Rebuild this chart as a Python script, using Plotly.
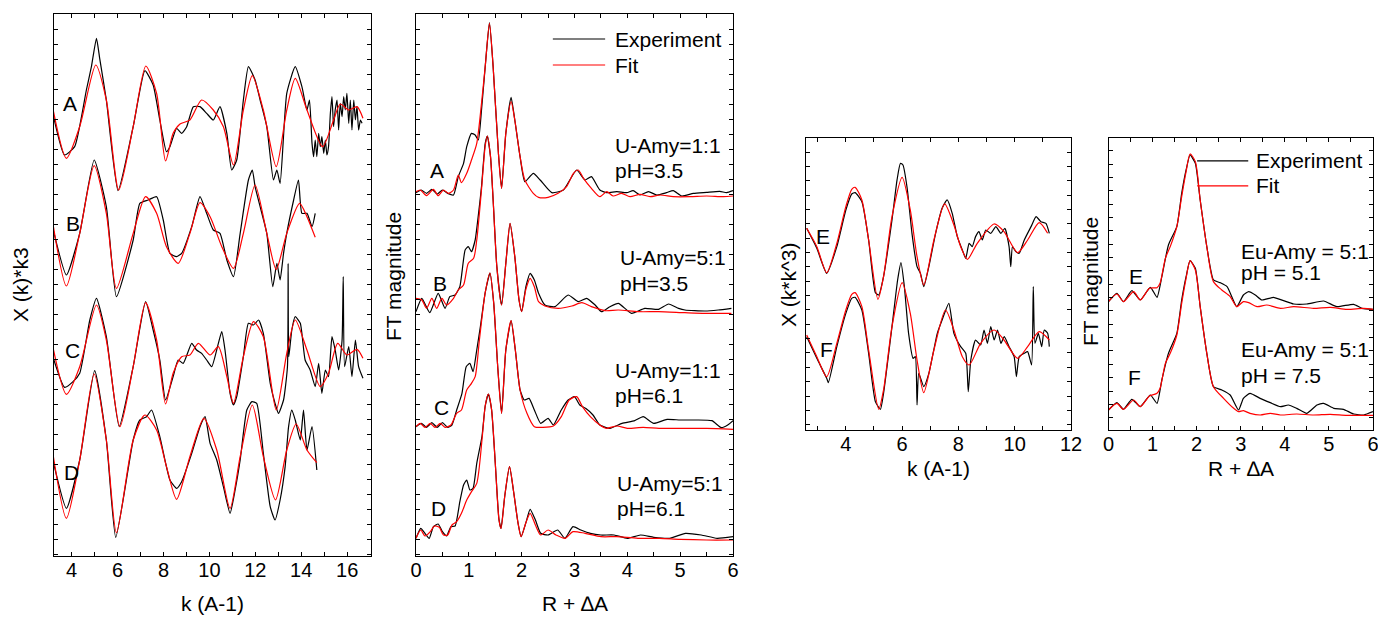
import plotly.graph_objects as go

# ---------------- DATA ----------------
# Panel 1: chi(k)*k^3, stacked curves A-D (arbitrary units, offsets included)
kA_exp = [3.18,3.69,4.13,4.64,4.86,5.08,5.22,5.51,6.02,6.68,7.19,7.55,7.84,8.13,8.28,8.57,8.79,9.01,9.30,9.59,
          9.88,10.17,10.46,10.76,10.97,11.19,11.48,11.70,11.99,12.21,12.50,12.79,12.94,13.08,13.37,13.74,14.03,
          14.25,14.36,14.47,14.54,14.61,14.68,14.76,14.83,14.90,14.98,15.05,15.12,15.19,15.27,15.34,15.41,15.48,
          15.56,15.63,15.70,15.78,15.85,15.92,15.99,16.07,16.14,16.21,16.29,16.36,16.43,16.50,16.58,16.65]
chiA_exp = [13.28,12.03,12.28,13.98,14.68,15.53,14.93,13.68,10.96,12.88,14.56,14.13,13.08,12.13,12.28,12.83,12.68,12.88,13.48,13.48,
            13.28,13.08,13.48,12.68,11.58,11.88,13.68,14.68,14.28,13.68,12.88,11.28,11.58,11.18,13.88,14.68,14.08,
            13.38,13.68,12.38,11.98,12.48,11.98,12.68,12.28,12.58,12.08,12.48,12.03,12.28,13.28,13.78,12.88,13.38,
            13.68,12.78,13.58,13.18,13.78,13.38,13.88,12.98,13.68,12.78,13.68,13.08,13.48,12.78,13.08,12.98]
kA_fit = [3.18,3.77,4.35,5.05,5.51,6.05,6.68,7.23,7.70,8.09,8.42,8.72,9.15,9.66,10.17,10.61,11.05,11.48,11.87,12.35,
          12.91,13.37,13.74,14.25,14.93,15.41,15.70,16.07,16.43,16.69]
chiA_fit = [13.43,11.93,12.88,14.73,13.68,10.98,12.88,14.70,13.88,11.85,12.68,12.96,13.08,13.68,13.38,12.88,11.73,13.38,14.41,13.38,
            11.68,13.38,14.33,13.38,12.28,13.08,13.56,13.38,13.48,13.13]

kB_exp = [3.18,3.77,4.35,4.98,5.51,5.95,6.68,6.97,7.33,7.70,7.99,8.28,8.57,8.79,9.23,9.59,9.88,10.17,10.46,10.76,
          11.05,11.34,11.70,11.87,11.99,12.21,12.50,12.76,12.94,13.08,13.23,13.37,13.67,13.88,14.03,14.25,14.47,14.61]
chiB_exp = [9.83,8.43,9.68,11.88,10.48,7.78,9.48,10.58,10.68,10.78,10.08,9.08,8.98,9.08,9.88,10.78,10.28,9.78,9.68,8.88,
            8.38,9.68,11.28,11.58,11.08,10.48,9.68,8.08,8.78,8.28,9.08,9.68,10.68,11.28,10.28,10.28,9.88,10.28]
kB_fit = [3.18,3.77,4.35,4.98,5.51,5.95,6.68,7.22,7.70,8.13,8.64,9.15,9.59,10.03,10.54,11.05,11.48,11.99,12.50,12.91,
          13.37,13.93,14.25,14.61]
chiB_fit = [9.98,8.10,9.68,11.71,10.28,8.03,9.68,10.78,10.28,9.28,8.78,9.68,10.60,10.18,9.28,8.63,9.68,11.13,9.68,8.60,
            9.68,10.58,10.18,9.56]

kC_exp = [3.18,3.69,4.06,4.35,4.79,5.08,5.51,6.07,6.68,7.22,7.55,7.84,8.09,8.42,8.64,8.86,9.23,9.44,9.66,9.88,
          10.10,10.39,10.54,10.68,10.90,11.05,11.19,11.48,11.70,11.92,12.14,12.35,12.65,12.86,13.01,13.23,13.40,13.43,13.46,13.59,
          13.74,13.96,14.17,14.39,14.61,14.76,14.90,15.05,15.19,15.34,15.48,15.63,15.78,15.83,15.89,16.07,16.21,16.36,16.50,16.69]
chiC_exp = [5.98,5.06,5.23,5.48,7.08,7.73,6.58,3.88,5.68,7.63,6.78,5.88,4.68,5.38,5.88,5.78,6.38,6.18,6.08,5.88,
            5.68,6.38,6.73,6.18,4.88,4.53,4.78,5.98,6.98,6.93,7.08,6.68,5.18,4.58,4.28,4.68,5.68,8.78,5.98,6.78,
            7.18,6.98,5.88,5.58,5.08,5.78,4.88,5.58,5.38,6.58,6.18,5.58,6.48,8.38,5.68,6.28,5.38,6.48,5.68,5.33]
kC_fit = [3.18,3.77,4.35,5.08,5.51,6.10,6.68,7.22,7.70,8.09,8.42,8.79,9.15,9.52,10.03,10.39,10.76,11.05,11.48,11.92,
          12.35,12.91,13.37,13.74,14.25,14.83,15.19,15.59,15.99,16.43,16.69]
chiC_fit = [6.28,4.85,5.68,7.53,6.48,3.88,5.68,7.60,6.48,4.56,5.48,5.98,6.03,6.38,6.03,6.28,5.38,4.58,5.98,7.03,
            6.58,4.38,6.08,7.08,6.18,5.08,5.48,6.38,6.03,6.20,5.93]

kD_exp = [3.18,3.77,4.35,5.00,5.51,5.92,6.68,6.97,7.26,7.48,7.84,8.28,8.57,8.79,9.23,9.59,9.81,10.03,10.32,10.61,
          10.90,11.12,11.34,11.63,11.85,12.06,12.35,12.65,12.86,13.08,13.30,13.45,13.59,13.74,13.96,14.10,14.25,14.47,14.68]
chiD_exp = [2.88,1.43,2.88,5.56,3.48,0.56,3.48,4.08,4.18,4.38,3.58,2.28,2.03,2.23,3.08,3.88,4.18,3.38,2.88,2.08,
            1.28,1.98,2.88,4.38,4.63,4.58,3.08,1.48,1.08,1.68,2.68,3.88,4.38,4.08,3.48,4.38,3.18,3.88,2.58]
kD_fit = [3.18,3.77,4.35,4.98,5.51,5.95,6.68,7.19,7.70,8.13,8.57,9.15,9.76,10.32,10.90,11.34,11.87,12.35,12.88,13.37,
          13.78,14.25,14.68]
chiD_fit = [3.08,1.13,2.88,5.46,3.48,0.70,3.48,4.23,3.78,2.68,1.70,2.98,4.13,3.18,1.43,2.98,4.53,2.98,1.68,3.18,
            3.96,3.18,2.80]

# Panel 2: FT magnitude, stacked curves A-D
RA_exp = [0,0.1,0.2,0.3,0.4,0.5,0.6,0.71,0.80,0.90,0.96,1.05,1.12,1.18,1.24,1.31,1.39,1.46,1.56,1.62,
          1.70,1.80,1.87,1.97,2.06,2.22,2.35,2.57,2.79,3.04,3.20,3.32,3.48,3.61,3.80,3.99,4.11,4.24,4.40,4.56,
          4.74,4.87,5.03,5.25,5.50,5.75,5.88,6.00]
ftA_exp = [10.90,10.98,10.88,11.00,10.86,10.98,10.88,10.83,11.38,11.78,12.28,12.68,12.63,12.48,13.38,14.68,16.00,14.68,12.08,11.03,
           12.68,13.76,13.08,11.98,11.23,11.48,11.28,10.90,10.98,11.58,11.28,11.38,10.98,10.90,10.93,10.90,10.96,10.83,10.93,10.83,
           10.90,10.96,10.80,10.88,10.91,10.94,10.90,10.96]
RA_fit = [0,0.08,0.2,0.33,0.42,0.52,0.61,0.71,0.80,0.86,0.96,1.05,1.15,1.24,1.31,1.39,1.46,1.56,1.62,1.70,
          1.80,1.87,1.97,2.06,2.22,2.32,2.50,2.69,2.85,2.98,3.07,3.17,3.32,3.48,3.61,3.73,3.89,4.05,4.24,4.43,
          4.62,4.87,5.19,5.50,5.82,6.00]
ftA_fit = [10.93,10.98,10.81,11.00,10.81,10.98,10.88,10.98,11.43,11.20,11.48,11.88,12.38,13.58,14.68,15.98,14.68,12.08,11.03,12.68,
           13.63,13.08,11.98,11.28,10.88,10.76,10.76,10.88,11.08,11.48,11.58,11.33,11.03,10.78,10.93,10.80,10.88,10.78,10.85,10.78,
           10.83,10.78,10.78,10.80,10.78,10.80]

RB_exp = [0,0.11,0.26,0.42,0.55,0.64,0.74,0.83,0.93,0.99,1.05,1.12,1.20,1.24,1.31,1.35,1.41,1.46,1.53,1.62,
          1.70,1.78,1.87,1.95,2.00,2.08,2.16,2.24,2.32,2.44,2.63,2.88,3.07,3.23,3.39,3.51,3.67,3.83,4.08,4.33,
          4.59,4.78,4.97,5.09,5.47,5.72,5.97]
ftB_exp = [7.33,7.73,7.30,7.88,7.43,7.78,7.83,8.08,9.18,9.28,9.13,9.48,10.5,11.08,12.38,12.60,11.98,10.68,8.68,7.53,
           8.78,9.98,8.98,7.68,7.33,8.08,8.48,8.28,7.88,7.53,7.48,7.83,7.63,7.73,7.53,7.33,7.48,7.58,7.28,7.43,
           7.40,7.56,7.43,7.38,7.35,7.38,7.43]
RB_fit = [0,0.11,0.2,0.3,0.39,0.49,0.58,0.71,0.8,0.9,0.99,1.09,1.15,1.24,1.31,1.35,1.41,1.46,1.53,1.62,
          1.70,1.78,1.87,1.95,2.00,2.08,2.16,2.24,2.32,2.44,2.69,2.95,3.14,3.32,3.58,3.83,4.21,4.59,5.09,5.47,5.97]
ftB_fit = [7.73,7.68,7.43,7.73,7.43,7.73,7.53,7.73,7.98,8.13,8.78,8.93,9.48,11.0,12.3,12.60,11.98,10.68,8.68,7.53,
           8.78,9.98,8.98,7.68,7.33,8.00,8.33,8.08,7.63,7.50,7.43,7.50,7.60,7.48,7.36,7.38,7.33,7.33,7.30,7.28,7.28]

RC_exp = [0,0.1,0.2,0.3,0.4,0.5,0.6,0.68,0.77,0.87,0.95,1.02,1.08,1.15,1.22,1.31,1.40,1.47,1.55,1.62,
          1.70,1.80,1.88,1.97,2.05,2.14,2.24,2.36,2.50,2.60,2.75,2.88,3.00,3.10,3.21,3.35,3.48,3.67,3.90,4.14,
          4.30,4.50,4.75,5.00,5.30,5.60,5.78,5.90,6.0]
ftC_exp = [3.88,3.98,3.86,4.00,3.86,4.00,3.86,3.93,4.38,4.88,5.68,5.78,5.53,6.18,6.9,7.9,8.49,7.6,5.6,4.28,
           6.18,7.06,6.18,4.98,4.68,4.73,4.38,3.98,4.13,3.93,4.38,4.68,4.78,4.53,4.43,4.23,3.93,3.83,3.98,4.06,
           4.18,3.98,4.10,4.08,4.08,4.06,3.85,3.93,4.06]
RC_fit = [0,0.08,0.17,0.27,0.36,0.46,0.55,0.66,0.77,0.86,0.96,1.05,1.12,1.20,1.31,1.40,1.47,1.55,1.62,1.70,
          1.80,1.88,1.97,2.10,2.24,2.40,2.60,2.75,2.90,3.04,3.15,3.30,3.48,3.60,3.80,4.00,4.30,4.60,5.00,5.50,6.00]
ftC_fit = [3.88,3.98,3.86,3.98,3.86,3.98,3.86,3.93,4.28,4.38,4.98,5.18,5.38,6.48,7.9,8.49,7.6,5.6,4.28,6.18,
           7.06,6.18,4.98,4.28,3.88,3.86,3.90,4.18,4.68,4.78,4.48,4.18,3.93,3.83,3.90,3.83,3.86,3.83,3.83,3.83,3.80]

RD_exp = [0,0.09,0.17,0.25,0.33,0.42,0.50,0.58,0.66,0.74,0.83,0.90,0.96,1.02,1.08,1.15,1.25,1.31,1.37,1.43,
          1.50,1.57,1.61,1.68,1.77,1.85,1.93,1.99,2.08,2.16,2.26,2.36,2.50,2.68,2.82,2.97,3.12,3.30,3.50,3.75,
          4.00,4.25,4.50,4.80,5.10,5.40,5.70,6.0]
ftD_exp = [0.53,0.83,0.68,0.53,0.88,0.96,0.73,0.60,0.88,0.90,1.63,2.13,2.28,1.98,2.03,2.78,3.6,4.5,4.86,4.4,
           2.8,1.1,0.83,1.8,2.68,1.9,1.0,0.58,1.0,1.40,1.08,0.68,0.63,0.78,0.53,0.88,0.78,0.68,0.63,0.63,
           0.53,0.63,0.56,0.53,0.68,0.63,0.53,0.58]
RD_fit = [0,0.09,0.17,0.27,0.35,0.44,0.52,0.60,0.68,0.77,0.86,0.96,1.05,1.15,1.25,1.31,1.37,1.43,1.50,1.57,
          1.61,1.68,1.77,1.85,1.93,1.99,2.08,2.16,2.26,2.36,2.50,2.65,2.82,2.97,3.20,3.50,3.80,4.20,4.60,5.00,5.50,6.0]
ftD_fit = [0.53,0.78,0.60,0.73,0.90,0.86,0.63,0.63,0.93,1.03,1.28,1.68,1.93,2.18,3.5,4.5,4.86,4.4,2.8,1.1,
           0.83,1.8,2.68,1.9,1.0,0.58,1.0,1.28,0.93,0.63,0.78,0.63,0.53,0.73,0.68,0.58,0.58,0.53,0.53,0.50,0.48,0.48]

# Panel 3: chi(k)*k^3, curves E and F
kE_exp = [2.61,2.97,3.32,3.68,4.00,4.21,4.33,4.57,4.81,5.05,5.17,5.34,5.64,5.82,5.94,6.03,6.18,6.35,6.53,6.65,6.77,
          6.95,7.19,7.42,7.60,7.78,7.96,8.14,8.26,8.38,8.49,8.61,8.73,8.85,8.97,9.15,9.33,9.51,9.65,9.80,9.86,
          9.92,10.04,10.16,10.34,10.58,10.76,10.93,11.11,11.23]
chiE_exp = [6.05,5.45,4.70,5.50,6.60,7.08,7.12,6.85,5.70,4.12,4.05,4.60,6.30,7.50,8.00,7.95,7.25,5.90,4.90,4.70,4.30,
            4.90,5.90,6.65,6.90,6.50,5.80,5.40,5.15,5.60,5.50,5.80,5.95,5.70,6.00,5.90,6.10,5.90,6.05,5.50,4.90,
            5.50,5.35,5.30,5.70,6.10,6.40,6.25,6.20,5.90]
kE_fit = [2.61,2.97,3.32,3.68,4.00,4.21,4.33,4.57,4.81,5.14,5.34,5.64,6.00,6.29,6.53,6.77,7.13,7.51,7.84,8.08,
          8.32,8.67,9.27,9.62,10.10,10.46,10.87,11.17]
chiE_fit = [6.05,5.50,4.72,5.60,6.70,7.22,7.28,6.90,5.70,3.92,4.60,6.40,7.58,6.60,5.20,4.35,5.70,6.78,6.15,5.50,
            5.12,5.60,6.18,5.95,5.32,5.70,6.22,5.90]

kF_exp = [2.61,2.97,3.32,3.38,3.68,4.00,4.21,4.33,4.57,4.81,5.05,5.23,5.34,5.64,5.84,5.96,6.08,6.23,6.39,6.47,6.53,
          6.59,6.77,6.95,7.25,7.42,7.66,7.84,8.08,8.26,8.35,8.44,8.61,8.79,8.91,9.03,9.15,9.27,9.39,9.51,9.63,
          9.80,9.98,10.06,10.16,10.34,10.46,10.60,10.66,10.72,10.84,10.96,11.05,11.17,11.23]
chiF_exp = [2.80,2.15,1.55,1.42,2.50,3.50,3.95,3.98,3.60,2.30,0.85,0.62,1.10,3.10,4.50,5.02,4.30,2.90,2.15,2.20,0.75,
            1.70,1.30,1.70,2.90,3.30,3.80,2.90,2.50,2.30,1.15,2.10,2.70,2.55,3.00,2.60,3.10,2.70,3.00,2.60,2.80,
            2.50,2.20,1.60,2.20,2.30,2.35,1.95,4.30,2.60,2.90,2.50,3.00,2.90,2.50]
kF_fit = [2.61,2.97,3.32,3.68,4.00,4.21,4.33,4.57,4.81,5.17,5.34,5.64,6.00,6.29,6.53,6.77,7.13,7.54,7.84,8.14,
          8.38,8.79,9.27,9.62,10.10,10.46,10.87,11.23]
chiF_fit = [2.85,2.20,1.60,2.60,3.60,4.07,4.12,3.70,2.40,0.62,1.20,3.10,4.42,3.50,2.10,1.12,2.40,3.60,3.00,2.20,
            1.95,2.60,3.00,2.70,2.15,2.50,2.95,2.70]

# Panel 4: FT magnitude, curves E and F
RE_exp = [0,0.19,0.34,0.53,0.72,0.95,1.10,1.21,1.36,1.55,1.66,1.76,1.85,1.97,2.08,2.23,2.38,2.53,2.69,2.91,
          3.06,3.18,3.33,3.48,3.74,3.97,4.20,4.50,4.88,5.18,5.56,5.75,6.00]
ftE_exp = [3.85,4.10,3.85,4.18,3.90,4.28,3.98,4.60,5.55,6.10,7.10,7.80,8.25,8.00,6.90,5.50,4.50,4.42,4.30,3.70,
           4.05,4.15,4.05,3.90,3.98,3.88,3.78,3.78,3.87,3.70,3.77,3.65,3.62]
RE_fit = [0,0.19,0.34,0.57,0.72,0.93,1.10,1.17,1.29,1.40,1.55,1.66,1.76,1.85,1.97,2.08,2.23,2.38,2.57,2.76,
          2.91,3.06,3.18,3.37,3.59,3.90,4.20,4.65,5.03,5.41,5.79,6.00]
ftE_fit = [3.85,4.08,3.85,4.15,3.90,4.25,4.27,4.40,5.15,5.50,6.10,7.00,7.75,8.28,8.05,6.90,5.50,4.45,4.20,4.00,
           3.70,3.85,3.82,3.70,3.75,3.65,3.70,3.65,3.68,3.62,3.65,3.62]

RF_exp = [0,0.19,0.34,0.53,0.72,0.95,1.10,1.21,1.36,1.55,1.66,1.76,1.85,1.97,2.08,2.23,2.38,2.57,2.76,2.95,
          3.06,3.21,3.44,3.67,3.90,4.08,4.27,4.50,4.73,4.88,5.11,5.33,5.56,5.79,6.00]
ftF_exp = [0.60,0.82,0.62,0.92,0.70,1.05,0.80,1.50,2.30,2.90,3.90,4.60,5.08,4.85,3.70,2.30,1.30,1.20,1.05,0.60,
           0.95,1.10,0.95,0.82,0.70,0.75,0.65,0.50,0.75,0.80,0.65,0.62,0.48,0.45,0.55]
RF_fit = [0,0.19,0.34,0.57,0.72,0.93,1.10,1.17,1.29,1.40,1.55,1.66,1.76,1.85,1.97,2.08,2.23,2.38,2.61,2.84,
          2.95,3.06,3.21,3.44,3.67,3.90,4.27,4.65,5.03,5.41,6.00]
ftF_fit = [0.60,0.80,0.62,0.90,0.70,1.02,1.10,1.25,2.00,2.30,2.85,3.80,4.55,5.08,4.80,3.70,2.30,1.30,0.95,0.65,
           0.55,0.58,0.50,0.45,0.50,0.45,0.48,0.45,0.47,0.44,0.44]

# Text content
curve_labels_left = ["A", "B", "C", "D"]
curve_labels_right = ["E", "F"]
samples_left = [("U-Amy=1:1", "pH=3.5"), ("U-Amy=5:1", "pH=3.5"), ("U-Amy=1:1", "pH=6.1"), ("U-Amy=5:1", "pH=6.1")]
samples_right = [("Eu-Amy = 5:1", "pH = 5.1"), ("Eu-Amy = 5:1", "pH = 7.5")]
legend_names = ["Experiment", "Fit"]

# ---------------- FIGURE ----------------
FONT = "Liberation Sans, Arial, sans-serif"
BLACK = "#000000"
RED = "#ff0000"
W, H = 1378, 617

fig = go.Figure()


def add_pair(xe, ye, xf, yf, n):
    xa = "x" if n == 1 else "x%d" % n
    ya = "y" if n == 1 else "y%d" % n
    fig.add_trace(go.Scatter(x=xe, y=ye, mode="lines", xaxis=xa, yaxis=ya, showlegend=False,
                             line=dict(color=BLACK, width=1.2, shape="spline", smoothing=0.5),
                             hoverinfo="skip"))
    fig.add_trace(go.Scatter(x=xf, y=yf, mode="lines", xaxis=xa, yaxis=ya, showlegend=False,
                             line=dict(color=RED, width=1.2, shape="spline", smoothing=0.7),
                             hoverinfo="skip"))


add_pair(kA_exp, chiA_exp, kA_fit, chiA_fit, 1)
add_pair(kB_exp, chiB_exp, kB_fit, chiB_fit, 1)
add_pair(kC_exp, chiC_exp, kC_fit, chiC_fit, 1)
add_pair(kD_exp, chiD_exp, kD_fit, chiD_fit, 1)
add_pair(RA_exp, ftA_exp, RA_fit, ftA_fit, 2)
add_pair(RB_exp, ftB_exp, RB_fit, ftB_fit, 2)
add_pair(RC_exp, ftC_exp, RC_fit, ftC_fit, 2)
add_pair(RD_exp, ftD_exp, RD_fit, ftD_fit, 2)
add_pair(kE_exp, chiE_exp, kE_fit, chiE_fit, 3)
add_pair(kF_exp, chiF_exp, kF_fit, chiF_fit, 3)
add_pair(RE_exp, ftE_exp, RE_fit, ftE_fit, 4)
add_pair(RF_exp, ftF_exp, RF_fit, ftF_fit, 4)

common = dict(showline=True, linecolor=BLACK, linewidth=1.3, mirror="ticks", ticks="inside",
              ticklen=4, tickwidth=1, tickcolor=BLACK, showgrid=False, zeroline=False,
              tickfont=dict(family=FONT, size=20, color=BLACK), fixedrange=True,
              ticklabeloverflow="allow", ticklabelstandoff=-4)


def px_x(a, b):
    return [a / W, b / W]


def px_y(top, bottom):
    return [1 - bottom / H, 1 - top / H]


minor_x = lambda d: dict(dtick=d, ticks="inside", ticklen=4, tickcolor=BLACK, showgrid=False)

fig.update_layout(
    width=W, height=H, autosize=False,
    margin=dict(l=0, r=0, t=0, b=0, autoexpand=False),
    paper_bgcolor="white", plot_bgcolor="white",
    font=dict(family=FONT, color=BLACK),
    xaxis=dict(common, domain=px_x(54, 371), range=[3.23, 17.04], tick0=0, dtick=2, minor=minor_x(1), anchor="y"),
    yaxis=dict(common, domain=px_y(14, 556), range=[0, 16.26], tick0=0.06, dtick=0.45, showticklabels=False, anchor="x"),
    xaxis2=dict(common, domain=px_x(416, 733), range=[0, 6], tick0=0, dtick=1, minor=minor_x(0.5), anchor="y2"),
    yaxis2=dict(common, domain=px_y(14, 556), range=[0, 16.26], tick0=0.06, dtick=0.45, showticklabels=False, anchor="x2"),
    xaxis3=dict(common, domain=px_x(806, 1071), range=[2.585, 12], tick0=0, dtick=2, minor=minor_x(1), anchor="y3"),
    yaxis3=dict(common, domain=px_y(138.3, 430), range=[0, 8.75], tick0=0.16, dtick=0.43, showticklabels=False, anchor="x3"),
    xaxis4=dict(common, domain=px_x(1108.5, 1373), range=[0, 6], tick0=0, dtick=1, minor=minor_x(0.5), anchor="y4"),
    yaxis4=dict(common, domain=px_y(138.3, 430), range=[0, 8.75], tick0=0.37, dtick=0.40, showticklabels=False, anchor="x4"),
)

anns = []


def txt(text, x, y, xref="paper", yref="paper", size=21, xanchor="center", angle=0):
    anns.append(dict(text=text, x=x, y=y, xref=xref, yref=yref, showarrow=False,
                     xanchor=xanchor, yanchor="middle", textangle=angle,
                     font=dict(family=FONT, size=size, color=BLACK)))


# axis titles
txt("X (k)*k3", 20 / W, 1 - 285 / H, angle=-90)
txt("k (A-1)", 212.5 / W, 1 - 603 / H)
txt("FT magnitude", 393 / W, 1 - 277 / H, angle=-90)
txt("R + ∆A", 574.5 / W, 1 - 603 / H)
txt("X (k*k^3)", 788 / W, 1 - 284 / H, angle=-90)
txt("k (A-1)", 938.5 / W, 1 - 469 / H)
txt("FT magnitude", 1090 / W, 1 - 282 / H, angle=-90)
txt("R + ∆A", 1240.75 / W, 1 - 469 / H)

# curve letters
for lab, (kx, ky) in zip(curve_labels_left, [(3.94, 13.59), (4.07, 9.99), (4.03, 6.18), (3.99, 2.52)]):
    txt(lab, kx, ky, "x", "y")
for lab, (rx, ry) in zip(curve_labels_left, [(0.40, 11.58), (0.45, 8.19), (0.49, 4.47), (0.42, 1.44)]):
    txt(lab, rx, ry, "x2", "y2")
for lab, (kx, ky) in zip(curve_labels_right, [(3.19, 5.79), (3.33, 2.40)]):
    txt(lab, kx, ky, "x3", "y3")
for lab, (rx, ry) in zip(curve_labels_right, [(0.62, 4.59), (0.60, 1.56)]):
    txt(lab, rx, ry, "x4", "y4")

# sample descriptions
for (l1, l2), (x0, y1, y2) in zip(samples_left, [(3.73, 12.33, 11.58), (3.82, 8.97, 8.19),
                                                 (3.73, 5.58, 4.83), (3.77, 2.19, 1.44)]):
    txt(l1, x0, y1, "x2", "y2", xanchor="left")
    txt(l2, x0, y2, "x2", "y2", xanchor="left")
for (l1, l2), (x0, y1, y2) in zip(samples_right, [(2.96, 5.34, 4.71), (2.96, 2.40, 1.62)]):
    txt(l1, x0, y1, "x4", "y4", xanchor="left")
    txt(l2, x0, y2, "x4", "y4", xanchor="left")

# legends (drawn keys + text)
shapes = []
for name, col, yy in zip(legend_names, [BLACK, RED], [15.51, 14.73]):
    shapes.append(dict(type="line", xref="x2", yref="y2", x0=2.59, x1=3.58, y0=yy, y1=yy,
                       line=dict(color=col, width=1.2)))
    txt(name, 3.73, yy, "x2", "y2", xanchor="left")
for name, col, yy in zip(legend_names, [BLACK, RED], [8.07, 7.32]):
    shapes.append(dict(type="line", xref="x4", yref="y4", x0=2.01, x1=3.17, y0=yy, y1=yy,
                       line=dict(color=col, width=1.2)))
    txt(name, 3.30, yy, "x4", "y4", xanchor="left")

fig.update_layout(annotations=anns, shapes=shapes)
fig.write_html("out.html", config={"displayModeBar": False},
               post_script="document.body.style.margin='0px';document.body.style.overflow='hidden';")
